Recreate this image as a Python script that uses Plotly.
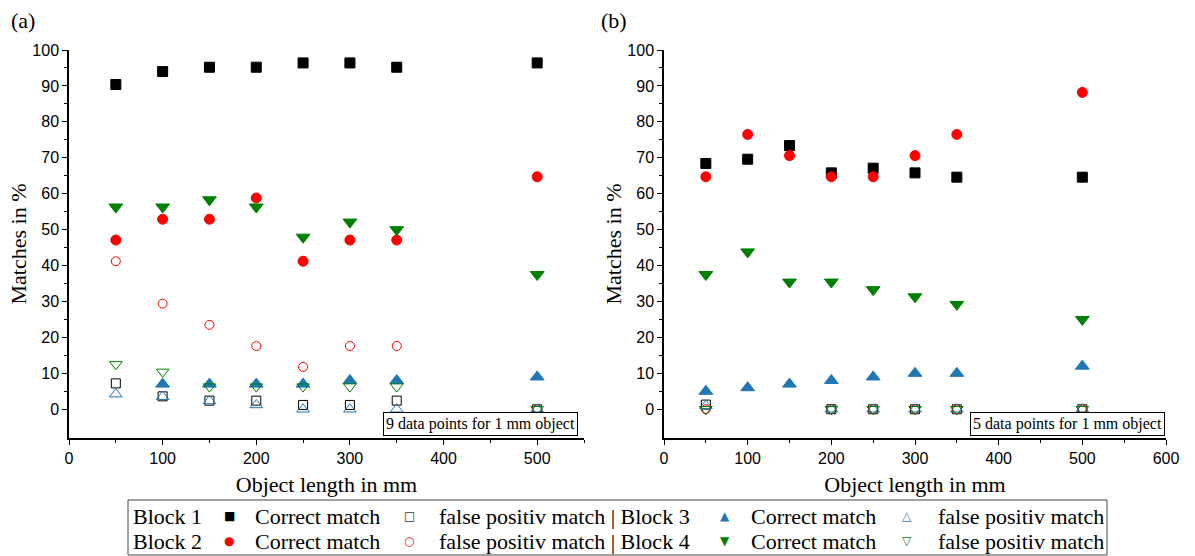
import plotly.graph_objects as go

# ---------------- data ----------------
lengths = [50, 100, 150, 200, 250, 300, 350, 500]

# Panel (a)
a_b1_correct = [90.4, 94.0, 95.2, 95.2, 96.4, 96.4, 95.2, 96.4]
a_b1_fp      = [7.2, 3.6, 2.4, 2.4, 1.2, 1.2, 2.4, 0.0]
a_b2_correct = [47.1, 52.9, 52.9, 58.8, 41.2, 47.1, 47.1, 64.7]
a_b2_fp      = [41.2, 29.4, 23.5, 17.6, 11.8, 17.6, 17.6, 0.0]
a_b3_correct = [None, 7.0, 7.0, 7.0, 7.0, 8.0, 8.0, 9.0]
a_b3_fp      = [4.2, 3.5, 2.3, 1.2, 0.0, 0.0, 0.0, 0.0]
a_b4_correct = [56.3, 56.3, 58.3, 56.3, 47.9, 52.1, 50.0, 37.5]
a_b4_fp      = [12.5, 10.4, 6.3, 6.3, 6.3, 6.3, 6.3, 0.0]

# Panel (b)
b_b1_correct = [68.4, 69.6, 73.4, 65.8, 67.1, 65.8, 64.6, 64.6]
b_b1_fp      = [1.3, None, None, 0.0, 0.0, 0.0, 0.0, 0.0]
b_b2_correct = [64.7, 76.5, 70.6, 64.7, 64.7, 70.6, 76.5, 88.2]
b_b2_fp      = [0.0, None, None, 0.0, 0.0, 0.0, 0.0, 0.0]
b_b3_correct = [5.0, 6.0, 7.0, 8.0, 9.0, 10.0, 10.0, 12.0]
b_b3_fp      = [1.0, None, None, 0.0, 0.0, 0.0, 0.0, 0.0]
b_b4_correct = [37.5, 43.8, 35.4, 35.4, 33.3, 31.3, 29.2, 25.0]
b_b4_fp      = [0.0, None, None, 0.0, 0.0, 0.0, 0.0, 0.0]

panel_labels = ["(a)", "(b)"]
box_notes = ["9 data points for 1 mm object", "5 data points for 1 mm object"]
x_title = "Object length in mm"
y_title = "Matches in %"
block_labels = ["Block 1", "Block 2"]
legend_rows = [
    [("■", "#000000"), "Correct match", ("□", "#333333"), "false positiv match | Block 3",
     ("▲", "#1f77b4"), "Correct match", ("△", "#1f77b4"), "false positiv match"],
    [("●", "#ff0000"), "Correct match", ("○", "#ff0000"), "false positiv match | Block 4",
     ("▼", "#008000"), "Correct match", ("▽", "#008000"), "false positiv match"],
]

BLACK = "#000000"
RED = "#ff0000"
BLUE = "#1f77b4"
GREEN = "#008000"
SERIF = "Liberation Serif, Times New Roman, serif"
SANS = "Liberation Sans, Arial, sans-serif"
SYM = "DejaVu Sans, sans-serif"

W, H = 1195, 556
def px(x):
    return x / W
def py(y):
    return 1 - y / H

series = [
    (a_b1_correct, b_b1_correct, BLACK, "square", "Block 1 correct match"),
    (a_b1_fp, b_b1_fp, BLACK, "square-open", "Block 1 false positiv match"),
    (a_b2_correct, b_b2_correct, RED, "circle", "Block 2 correct match"),
    (a_b2_fp, b_b2_fp, RED, "circle-open", "Block 2 false positiv match"),
    (a_b3_correct, b_b3_correct, BLUE, "triangle-up", "Block 3 correct match"),
    (a_b3_fp, b_b3_fp, BLUE, "triangle-up-open", "Block 3 false positiv match"),
    (a_b4_correct, b_b4_correct, GREEN, "triangle-down", "Block 4 correct match"),
    (a_b4_fp, b_b4_fp, GREEN, "triangle-down-open", "Block 4 false positiv match"),
]

fig = go.Figure()
for da, db, col, sym, name in series:
    is_open = sym.endswith("open")
    size = 9 if is_open else 10
    if sym.startswith("triangle"):
        size += 2
    mk = dict(symbol=sym, color=col, size=size, line=dict(width=1, color=col))
    fig.add_trace(go.Scatter(x=lengths, y=da, mode="markers", marker=mk,
                             name=name, showlegend=False, xaxis="x", yaxis="y"))
    fig.add_trace(go.Scatter(x=lengths, y=db, mode="markers", marker=mk,
                             name=name, showlegend=False, xaxis="x2", yaxis="y2"))

xdom1 = [px(69), px(584)]
xdom2 = [px(664), px(1166)]
ydom = [py(438), py(50)]
yrange = [-8, 100]

common_x = dict(
    showgrid=False, zeroline=False, showline=True, linecolor="black", linewidth=1.5,
    ticks="outside", ticklen=5, tickwidth=1, tickcolor="black", dtick=100, tick0=0,
    minor=dict(ticks="outside", ticklen=3, tickwidth=1, tickcolor="black", dtick=50),
    tickfont=dict(family=SANS, size=16, color="black"), automargin=False,
    title=dict(text=x_title, font=dict(family=SERIF, size=22, color="black"), standoff=11),
)
common_y = dict(
    showgrid=False, zeroline=False, showline=True, linecolor="black", linewidth=1.5,
    ticks="outside", ticklen=5, tickwidth=1, tickcolor="black", tickvals=list(range(0, 101, 10)),
    minor=dict(ticks="outside", ticklen=3, tickwidth=1, tickcolor="black", tickvals=list(range(5, 100, 10))),
    tickfont=dict(family=SANS, size=16, color="black"), range=yrange, automargin=False,
    title=dict(text=y_title, font=dict(family=SERIF, size=22, color="black"), standoff=0),
)
mirror_x = dict(
    showgrid=False, zeroline=False, showline=True, linecolor="black", linewidth=1.5,
    ticks="inside", ticklen=5, tickwidth=1, tickcolor="black", dtick=100, tick0=0,
    minor=dict(ticks="inside", ticklen=3, tickwidth=1, tickcolor="black", dtick=50),
    showticklabels=False, side="top", automargin=False,
)
mirror_y = dict(
    showgrid=False, zeroline=False, showline=True, linecolor="black", linewidth=1.5,
    ticks="inside", ticklen=5, tickwidth=1, tickcolor="black", tickvals=list(range(0, 101, 10)),
    minor=dict(ticks="inside", ticklen=3, tickwidth=1, tickcolor="black", tickvals=list(range(5, 100, 10))),
    showticklabels=False, side="right", range=yrange, automargin=False,
)

fig.update_layout(
    width=W, height=H,
    margin=dict(l=0, r=0, t=0, b=0, pad=0),
    paper_bgcolor="white", plot_bgcolor="white",
    xaxis=dict(common_x, domain=xdom1, range=[0, 550], anchor="y"),
    yaxis=dict(common_y, domain=ydom, anchor="x"),
    xaxis2=dict(common_x, domain=xdom2, range=[0, 600], anchor="y2"),
    yaxis2=dict(common_y, domain=ydom, anchor="x2"),
    xaxis3=dict(mirror_x, overlaying="x", anchor="y", range=[0, 550]),
    yaxis3=dict(mirror_y, overlaying="y", anchor="x"),
    xaxis4=dict(mirror_x, overlaying="x2", anchor="y2", range=[0, 600]),
    yaxis4=dict(mirror_y, overlaying="y2", anchor="x2"),
    showlegend=False,
)

# ---- legend box built from text ----
fig.add_shape(type="rect", xref="paper", yref="paper",
              x0=px(128), x1=px(1107), y0=py(555), y1=py(500),
              line=dict(color="#444444", width=1), fillcolor="rgba(0,0,0,0)")

col_x = [229, 254, 409, 438, 725, 750, 907, 937]
row_y = [516, 541]
for r, row in enumerate(legend_rows):
    fig.add_annotation(text=block_labels[r], xref="paper", yref="paper", x=px(132), y=py(row_y[r]),
                       xanchor="left", yanchor="middle", showarrow=False, borderpad=0,
                       font=dict(family=SERIF, size=22, color="black"))
    for c, item in enumerate(row):
        if isinstance(item, tuple):
            glyph, colr = item
            fig.add_annotation(text=glyph, xref="paper", yref="paper", x=px(col_x[c]), y=py(row_y[r]),
                               xanchor="center", yanchor="middle", showarrow=False, borderpad=0,
                               font=dict(family=SYM, size=12, color=colr))
        else:
            fig.add_annotation(text=item, xref="paper", yref="paper", x=px(col_x[c]), y=py(row_y[r]),
                               xanchor="left", yanchor="middle", showarrow=False, borderpad=0,
                               font=dict(family=SERIF, size=22, color="black"))

# panel labels
for lab, xx in zip(panel_labels, [9, 599]):
    fig.add_annotation(text=lab, xref="paper", yref="paper", x=px(xx), y=py(20),
                       xanchor="left", yanchor="middle", showarrow=False,
                       font=dict(family=SERIF, size=22, color="black"))

# note boxes
fig.add_annotation(text=box_notes[0], xref="x domain", yref="y domain", x=0.988, y=0.005,
                   xanchor="right", yanchor="bottom", showarrow=False,
                   bordercolor="black", borderwidth=1, borderpad=2, bgcolor="white",
                   font=dict(family=SERIF, size=16, color="black"))
fig.add_annotation(text=box_notes[1], xref="x2 domain", yref="y2 domain", x=0.999, y=0.005,
                   xanchor="right", yanchor="bottom", showarrow=False,
                   bordercolor="black", borderwidth=1, borderpad=2, bgcolor="white",
                   font=dict(family=SERIF, size=16, color="black"))

fig.write_html("out.html", include_plotlyjs=True)
